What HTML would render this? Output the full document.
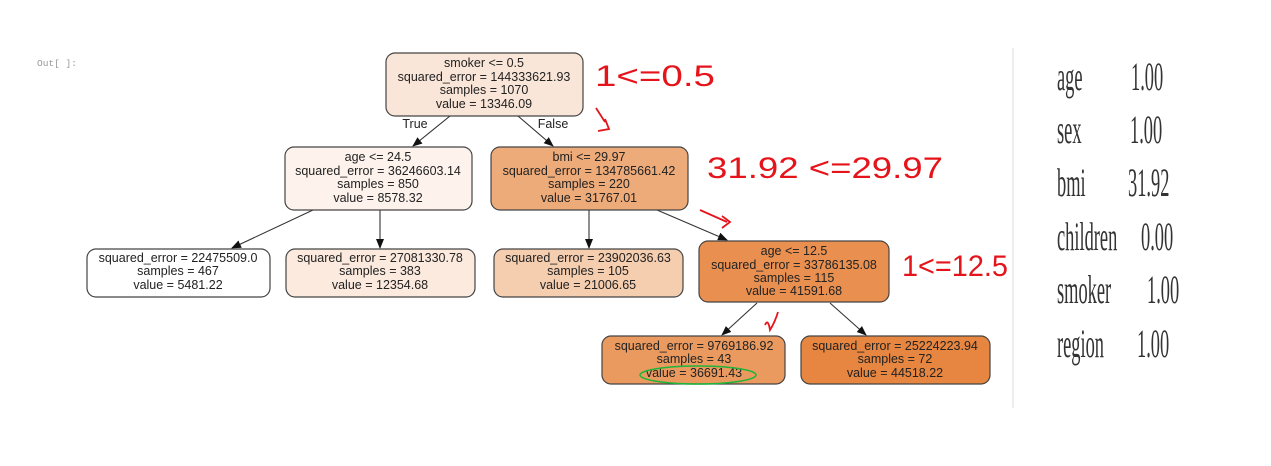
<!DOCTYPE html>
<html><head><meta charset="utf-8"><style>
html,body{margin:0;padding:0;background:#fff;width:1271px;height:466px;overflow:hidden}
svg{display:block}
.t{font-family:"Liberation Sans",sans-serif;font-size:12.5px;fill:#222;text-anchor:middle}
.n{stroke:#444;stroke-width:1.2}
.e{stroke:#333;stroke-width:1.1;fill:none}
.r{font-family:"Liberation Sans",sans-serif;fill:#e5141b;font-size:30px;font-weight:300}
.s{font-family:"Liberation Serif",serif;font-size:40px;fill:#333}
</style></head><body>
<svg width="1271" height="466" viewBox="0 0 1271 466">
<defs><marker id="a" markerWidth="10" markerHeight="10" refX="9" refY="5" orient="auto" markerUnits="userSpaceOnUse"><path d="M0,1 L10,5 L0,9z" fill="#111"/></marker></defs>
<text x="37" y="66" font-family="Liberation Mono,monospace" font-size="9.5" fill="#999">Out[ ]:</text>
<line x1="1013" y1="48" x2="1013" y2="408" stroke="#ddd"/>
<line class="e" x1="450" y1="116" x2="413" y2="146" marker-end="url(#a)"/>
<line class="e" x1="518" y1="116" x2="553" y2="146" marker-end="url(#a)"/>
<text class="t" x="415" y="128">True</text>
<text class="t" x="553" y="128">False</text>
<line class="e" x1="313" y1="210" x2="232" y2="248" marker-end="url(#a)"/>
<line class="e" x1="380" y1="210" x2="380" y2="248" marker-end="url(#a)"/>
<line class="e" x1="589" y1="210" x2="589" y2="248" marker-end="url(#a)"/>
<line class="e" x1="657" y1="210" x2="727" y2="240" marker-end="url(#a)"/>
<line class="e" x1="757" y1="303" x2="722" y2="335" marker-end="url(#a)"/>
<line class="e" x1="830" y1="303" x2="866" y2="335" marker-end="url(#a)"/>

<rect class="n" x="386" y="53" width="197" height="63" rx="9" fill="#fae6d8"/>
<text class="t" x="484" y="67">smoker &lt;= 0.5</text>
<text class="t" x="484" y="81">squared_error = 144333621.93</text>
<text class="t" x="484" y="94">samples = 1070</text>
<text class="t" x="484" y="108">value = 13346.09</text>

<rect class="n" x="285" y="147" width="187" height="63" rx="9" fill="#fdf3ec"/>
<text class="t" x="378" y="161">age &lt;= 24.5</text>
<text class="t" x="378" y="175">squared_error = 36246603.14</text>
<text class="t" x="378" y="188">samples = 850</text>
<text class="t" x="378" y="202">value = 8578.32</text>

<rect class="n" x="491" y="147" width="197" height="63" rx="9" fill="#eeab7a"/>
<text class="t" x="589" y="161">bmi &lt;= 29.97</text>
<text class="t" x="589" y="175">squared_error = 134785661.42</text>
<text class="t" x="589" y="188">samples = 220</text>
<text class="t" x="589" y="202">value = 31767.01</text>

<rect class="n" x="87" y="249" width="183" height="48" rx="9" fill="#fff"/>
<text class="t" x="178" y="262">squared_error = 22475509.0</text>
<text class="t" x="178" y="275">samples = 467</text>
<text class="t" x="178" y="289">value = 5481.22</text>

<rect class="n" x="286" y="249" width="189" height="48" rx="9" fill="#fbeadd"/>
<text class="t" x="380" y="262">squared_error = 27081330.78</text>
<text class="t" x="380" y="275">samples = 383</text>
<text class="t" x="380" y="289">value = 12354.68</text>

<rect class="n" x="494" y="249" width="189" height="48" rx="9" fill="#f5cdaf"/>
<text class="t" x="588" y="262">squared_error = 23902036.63</text>
<text class="t" x="588" y="275">samples = 105</text>
<text class="t" x="588" y="289">value = 21006.65</text>

<rect class="n" x="699" y="241" width="190" height="61" rx="9" fill="#e99050"/>
<text class="t" x="794" y="255">age &lt;= 12.5</text>
<text class="t" x="794" y="269">squared_error = 33786135.08</text>
<text class="t" x="794" y="282">samples = 115</text>
<text class="t" x="794" y="295">value = 41591.68</text>

<rect class="n" x="602" y="336" width="183" height="48" rx="9" fill="#ea9a5f"/>
<text class="t" x="694" y="350">squared_error = 9769186.92</text>
<text class="t" x="694" y="363">samples = 43</text>
<text class="t" x="694" y="377">value = 36691.43</text>

<rect class="n" x="801" y="336" width="189" height="48" rx="9" fill="#e68640"/>
<text class="t" x="895" y="350">squared_error = 25224223.94</text>
<text class="t" x="895" y="363">samples = 72</text>
<text class="t" x="895" y="377">value = 44518.22</text>

<ellipse cx="698" cy="375" rx="58" ry="9" fill="none" stroke="#1db53a" stroke-width="1.5"/>
<text class="r" x="595" y="86" textLength="120" lengthAdjust="spacingAndGlyphs">1&lt;=0.5</text>
<path d="M596,108 L605,122 M598,131 L609,129 L605,119" stroke="#e5141b" stroke-width="1.8" fill="none"/>
<text class="r" x="707" y="178" textLength="236" lengthAdjust="spacingAndGlyphs">31.92 &lt;=29.97</text>
<path d="M700,210 L727,222 M722,216 L730,222 L722,228" stroke="#e5141b" stroke-width="1.8" fill="none"/>
<text class="r" x="902" y="276" textLength="106" lengthAdjust="spacingAndGlyphs">1&lt;=12.5</text>
<path d="M765,325 Q768,318 770,330 Q775,322 778,312" stroke="#e5141b" stroke-width="1.8" fill="none"/>

<g class="s">
<text transform="translate(1057,90) scale(0.46,1)">age</text><text transform="translate(1131,90) scale(0.46,1)">1.00</text>
<text transform="translate(1057,143) scale(0.46,1)">sex</text><text transform="translate(1130,143) scale(0.46,1)">1.00</text>
<text transform="translate(1057,196) scale(0.46,1)">bmi</text><text transform="translate(1128,196) scale(0.46,1)">31.92</text>
<text transform="translate(1057,250) scale(0.46,1)">children</text><text transform="translate(1141,250) scale(0.46,1)">0.00</text>
<text transform="translate(1057,303) scale(0.46,1)">smoker</text><text transform="translate(1147,303) scale(0.46,1)">1.00</text>
<text transform="translate(1057,357) scale(0.46,1)">region</text><text transform="translate(1137,357) scale(0.46,1)">1.00</text>
</g>
</svg>
</body></html>
